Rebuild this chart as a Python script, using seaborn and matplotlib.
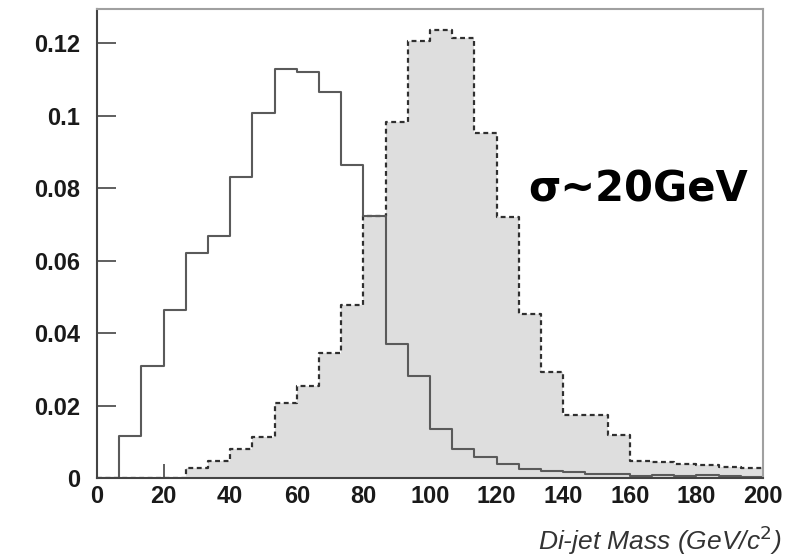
import numpy as np
import pandas as pd
import seaborn as sns
import matplotlib.pyplot as plt
from matplotlib.ticker import MultipleLocator, FixedLocator

# Di-jet mass histograms, 30 bins between 0 and 200 GeV/c^2
mass_min = 0
mass_max = 200
n_bins = 30

# open histogram (solid line)
solid_frac = [0, 0.0116, 0.0309, 0.0463, 0.0620, 0.0668, 0.0830, 0.1007, 0.1129, 0.1122,
              0.1065, 0.0864, 0.0723, 0.0371, 0.0282, 0.0135, 0.0080, 0.0058, 0.0040, 0.0026,
              0.0019, 0.0016, 0.0012, 0.0010, 0.0006, 0.0008, 0.0006, 0.0007, 0.0005, 0.0004]

# shaded histogram (dashed line)
shaded_frac = [0, 0, 0, 0, 0.0027, 0.0048, 0.0080, 0.0114, 0.0208, 0.0255,
               0.0345, 0.0479, 0.0723, 0.0984, 0.1206, 0.1236, 0.1216, 0.0952, 0.0722, 0.0452,
               0.0293, 0.0173, 0.0173, 0.0118, 0.0046, 0.0044, 0.0038, 0.0035, 0.0030, 0.0028]

x_ticks = [0, 20, 40, 60, 80, 100, 120, 140, 160, 180, 200]
y_ticks = [0, 0.02, 0.04, 0.06, 0.08, 0.1, 0.12]
y_tick_labels = ['0', '0.02', '0.04', '0.06', '0.08', '0.1', '0.12']
x_title = 'Di-jet Mass (GeV/c$^{2}$)'
note = 'σ~20GeV'

edges = list(np.linspace(mass_min, mass_max, n_bins + 1))
centers = [(a + b) / 2 for a, b in zip(edges[:-1], edges[1:])]
df = pd.DataFrame({'mass': centers, 'solid': solid_frac, 'shaded': shaded_frac})

sns.set_theme(style='white')
plt.rcParams['font.family'] = ['Liberation Sans', 'DejaVu Sans']

fig = plt.figure(figsize=(7.9, 5.58), dpi=100)
ax = fig.add_axes([97 / 790, 80 / 558, 666 / 790, 469 / 558])

# shaded histogram: fill then dashed outline
sns.histplot(data=df, x='mass', weights='shaded', bins=edges, element='step', fill=True,
             color='#dedede', alpha=1, linewidth=0, ax=ax)
sns.histplot(data=df, x='mass', weights='shaded', bins=edges, element='step', fill=False,
             color='#303030', linewidth=1.6, linestyle=(0, (2.2, 1.6)), ax=ax)
# open histogram
sns.histplot(data=df, x='mass', weights='solid', bins=edges, element='step', fill=False,
             color='#5a5a5a', linewidth=1.5, ax=ax)

ax.set_xlim(mass_min, mass_max)
ax.set_ylim(0, 0.1295)
ax.set_xlabel('')
ax.set_ylabel('')

ax.xaxis.set_major_locator(FixedLocator(x_ticks))
ax.xaxis.set_minor_locator(MultipleLocator(5))
ax.yaxis.set_major_locator(FixedLocator(y_ticks))
ax.yaxis.set_minor_locator(MultipleLocator(0.005))
ax.set_yticklabels(y_tick_labels)

ax.tick_params(axis='x', which='major', direction='in', length=10, width=1.2, color='#444',
               pad=5, labelsize=17)
ax.tick_params(axis='x', which='minor', direction='in', length=5, width=1.0, color='#444')
ax.tick_params(axis='y', which='major', direction='in', length=14, width=1.2, color='#444',
               pad=12, labelsize=17)
ax.tick_params(axis='y', which='minor', direction='in', length=7, width=1.0, color='#444')
ax.tick_params(bottom=True, left=True, top=False, right=False)

for lbl in ax.get_xticklabels() + ax.get_yticklabels():
    lbl.set_fontweight('bold')
    lbl.set_color('#1a1a1a')

for side in ['top', 'right']:
    ax.spines[side].set_color('#a0a0a0')
    ax.spines[side].set_linewidth(1.5)
for side in ['bottom', 'left']:
    ax.spines[side].set_color('#444')
    ax.spines[side].set_linewidth(1.5)

ax.text(162.5, 0.0797, note, ha='center', va='center', fontsize=30, fontweight='bold',
        family='DejaVu Sans', color='black')

fig.text(781 / 790, 18 / 558, x_title, ha='right', va='center', fontsize=19,
         style='italic', color='#333')

plt.savefig('out.png', dpi=100)
